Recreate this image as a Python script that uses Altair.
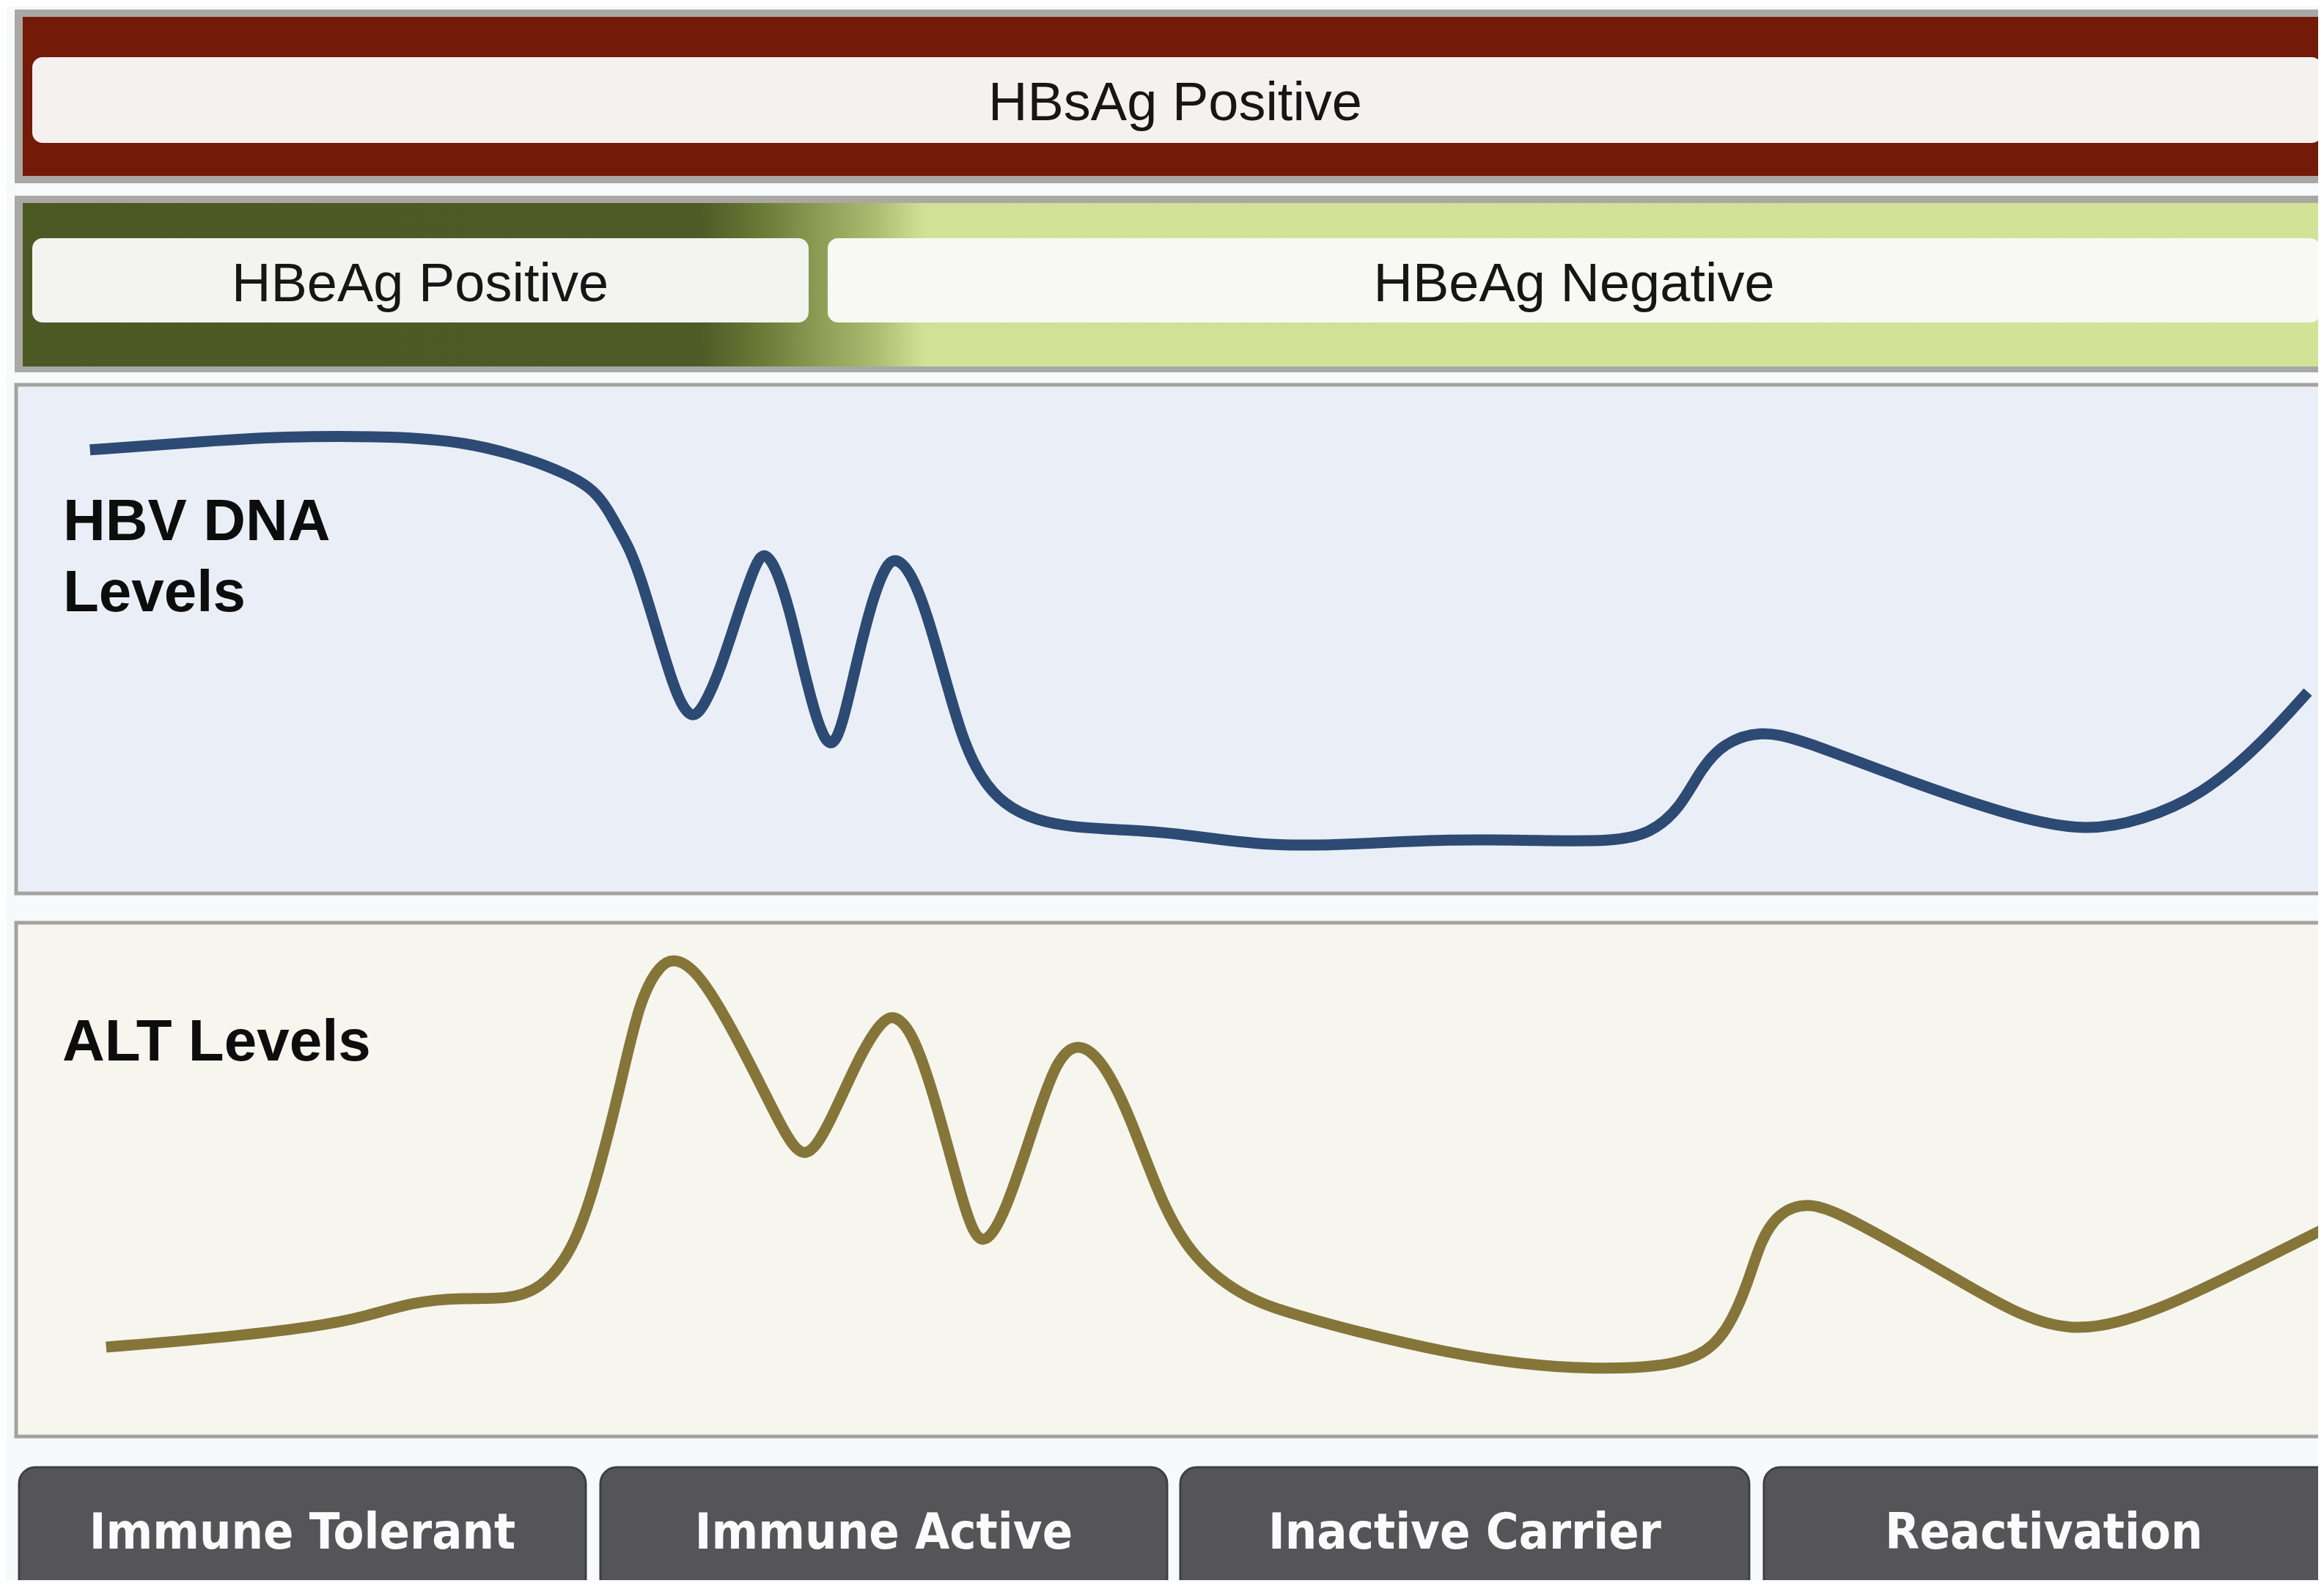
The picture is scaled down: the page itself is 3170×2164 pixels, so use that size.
import altair as alt
import pandas as pd

# ---------------- data ----------------
PHASES = ["Immune Tolerant", "Immune Active", "Inactive Carrier", "Reactivation"]
SURFACE_LABEL = ["HBsAg Positive"]
E_LABELS = ["HBeAg Positive", "HBeAg Negative"]
PANEL_LABELS = ["HBV DNA\nLevels", "ALT Levels"]

# time runs 0..100 across the panels, level 0..100 from panel bottom to top
DNA_TIME = [3.2, 7.4, 11.5, 16.5, 19.6, 21.5, 22.7, 24.2, 25.0, 25.6, 26.2, 26.6,
            27.1, 27.6, 28.4, 28.8, 29.3, 29.8, 30.5, 31.3, 32.0, 32.4, 32.9, 33.5,
            34.1, 34.7, 35.3, 35.8, 36.4, 37.1, 37.7, 38.1, 38.7, 39.4, 40.2, 41.0,
            41.8, 42.8, 44.2, 45.8, 47.9, 50.1, 54.3, 58.1, 62.2, 66.0, 69.2, 70.8,
            72.1, 73.0, 74.0, 75.6, 77.2, 81.9, 86.7, 89.7, 92.1, 94.7, 97.2, 99.3]
DNA_LEVEL = [87.2, 88.6, 89.9, 89.9, 88.6, 86.3, 84.6, 81.7, 79.3, 75.9, 70.8, 67.6,
             61.5, 54.0, 41.9, 37.3, 34.2, 36.7, 43.8, 55.3, 64.4, 67.4, 64.4, 56.1,
             44.4, 33.6, 27.8, 32.9, 45.1, 57.9, 64.7, 66.0, 63.7, 56.1, 43.2, 30.3,
             22.6, 17.4, 14.3, 13.0, 12.5, 12.0, 9.1, 9.7, 10.7, 10.4, 10.2, 11.7,
             16.7, 24.5, 29.7, 32.0, 30.5, 22.2, 14.8, 12.2, 14.3, 19.3, 29.0, 39.6]

ALT_TIME = [3.9, 8.6, 13.1, 15.2, 17.2, 19.3, 21.3, 22.7, 24.1, 25.1, 26.2, 27.0,
            27.9, 28.6, 29.6, 31.0, 32.4, 33.4, 34.2, 35.1, 36.5, 37.5, 38.1, 38.9,
            39.9, 41.0, 41.8, 42.9, 44.1, 45.1, 46.0, 47.0, 48.2, 49.6, 51.0, 53.3,
            55.7, 57.8, 62.2, 65.2, 68.2, 71.2, 73.0, 74.1, 75.0, 75.6, 76.4, 77.6,
            78.9, 81.6, 84.6, 86.9, 89.0, 91.1, 93.5, 96.5, 100.0]
ALT_LEVEL = [17.4, 19.1, 21.4, 23.4, 26.2, 27.0, 26.7, 28.5, 35.8, 48.9, 68.5, 84.9,
             92.0, 93.2, 90.2, 79.6, 67.2, 58.1, 53.6, 59.3, 73.8, 81.0, 82.2, 78.3,
             64.6, 45.6, 35.3, 43.7, 60.6, 73.7, 76.8, 73.7, 63.3, 45.6, 34.5, 26.6,
             23.4, 20.7, 16.1, 14.1, 13.1, 13.5, 15.5, 20.1, 29.2, 38.4, 43.7, 45.6,
             43.7, 37.1, 29.2, 23.4, 20.6, 22.0, 26.0, 32.5, 40.4]

# ---------------- layout (page pixels) ----------------
W, H, M = 3170, 2164, 8
T0, T1 = 22, 3170
DNA_BOX = (22, 3185, 525, 1219)
ALT_BOX = (22, 3185, 1259, 1960)

def curve(times, levels, box):
    x0, x1, top, bottom = box
    return pd.DataFrame({
        "x": [T0 + t / 100 * (T1 - T0) for t in times],
        "y": [bottom - v / 100 * (bottom - top) for v in levels],
    })

dna_df = curve(DNA_TIME, DNA_LEVEL, DNA_BOX)
alt_df = curve(ALT_TIME, ALT_LEVEL, ALT_BOX)

X = lambda f: alt.X(f, type="quantitative", scale=alt.Scale(domain=[M, W - M], nice=False, zero=False), axis=None)
Y = lambda f: alt.Y(f, type="quantitative", scale=alt.Scale(domain=[M, H - M], nice=False, zero=False, reverse=True), axis=None)

def rects(rows):
    return pd.DataFrame(rows, columns=["x", "x2", "y", "y2", "c"])

frames = rects([
    (20, 3185, 13, 250, "#a9a8a5"),
    (20, 3185, 267, 508, "#a9a8a5"),
    (31, 3185, 23, 240, "#731a08"),
])
plain_layer = alt.Chart(frames).mark_rect().encode(
    x=X("x"), x2="x2", y=Y("y"), y2="y2", color=alt.Color("c:N", scale=None))

grad = alt.LinearGradient(
    gradient="linear", x1=0, x2=1, y1=0, y2=0,
    stops=[alt.GradientStop(color="#4c5925", offset=0.0),
           alt.GradientStop(color="#4e5b27", offset=0.293),
           alt.GradientStop(color="#6b7b37", offset=0.32),
           alt.GradientStop(color="#8e9d55", offset=0.345),
           alt.GradientStop(color="#a9b96d", offset=0.367),
           alt.GradientStop(color="#d2e196", offset=0.39),
           alt.GradientStop(color="#d3e297", offset=1.0)])
green = alt.Chart(rects([(31, 3185, 277, 500, "g")])).mark_rect(fill=grad).encode(
    x=X("x"), x2="x2", y=Y("y"), y2="y2")

white_boxes = alt.Chart(rects([
    (44, 3167, 78, 195, "#f5f1ef"),
    (44, 1103, 325, 440, "#f3f4ef"),
    (1129, 3165, 325, 440, "#f8f9f3"),
])).mark_rect(cornerRadius=14).encode(
    x=X("x"), x2="x2", y=Y("y"), y2="y2", color=alt.Color("c:N", scale=None))

panels = alt.Chart(rects([
    (DNA_BOX[0], DNA_BOX[1], DNA_BOX[2], DNA_BOX[3], "#eaeef6"),
    (ALT_BOX[0], ALT_BOX[1], ALT_BOX[2], ALT_BOX[3], "#f6f5ee"),
])).mark_rect(stroke="#a3a39f", strokeWidth=5).encode(
    x=X("x"), x2="x2", y=Y("y"), y2="y2", color=alt.Color("c:N", scale=None))

btn_x = [(26, 799), (819, 1592), (1610, 2386), (2406, 3190)]
buttons_df = pd.DataFrame({
    "label": PHASES,
    "x": [a for a, b in btn_x],
    "x2": [b for a, b in btn_x],
    "xc": [(a + min(b, 3170)) / 2 for a, b in btn_x],
    "y": [2002] * 4,
    "y2": [2210] * 4,
    "yt": [2113] * 4,
})
buttons = alt.Chart(buttons_df).mark_rect(
    cornerRadius=22, fill="#555457", stroke="#3f3e41", strokeWidth=3).encode(
    x=X("x"), x2="x2", y=Y("y"), y2="y2")
button_text = alt.Chart(buttons_df).mark_text(
    font="'Liberation Sans Narrow', 'Arial Narrow', 'DejaVu Sans Condensed', sans-serif",
    fontWeight="bold", fontSize=68, color="#fbfbfb", align="center", baseline="alphabetic").encode(
    x=X("xc"), y=Y("yt"), text="label:N")

dna_line = alt.Chart(dna_df).mark_line(
    color="#2c4a73", strokeWidth=15, interpolate="basis", strokeCap="butt",
    strokeJoin="round").encode(x=X("x"), y=Y("y"))
alt_line = alt.Chart(alt_df).mark_line(
    color="#857539", strokeWidth=15, interpolate="basis", strokeCap="butt",
    strokeJoin="round").encode(x=X("x"), y=Y("y"))

band_text_df = pd.DataFrame({
    "label": SURFACE_LABEL + E_LABELS,
    "x": [1603, 573, 2147],
    "y": [164, 411, 411],
})
band_text = alt.Chart(band_text_df).mark_text(
    font="Liberation Sans", fontSize=74, color="#161616", align="center", baseline="alphabetic").encode(
    x=X("x"), y=Y("y"), text="label:N")

panel_text_df = pd.DataFrame({
    "label": PANEL_LABELS,
    "x": [86, 85],
    "y": [737, 1447],
})
panel_text = alt.Chart(panel_text_df).mark_text(
    font="Liberation Sans", fontSize=80, fontWeight="bold", color="#0d0d0d",
    align="left", baseline="alphabetic", lineBreak="\n", lineHeight=97).encode(
    x=X("x"), y=Y("y"), text="label:N")

chart = alt.layer(
    plain_layer, green, white_boxes, panels, buttons, button_text,
    dna_line, alt_line, band_text, panel_text,
).properties(
    width=W - 2 * M, height=H - 2 * M, padding=0,
    autosize=alt.AutoSizeParams(type="none"), background="#f7fafa",
).configure_view(strokeWidth=0)

chart.save("out.html", embed_options={"renderer": "svg", "actions": False})
